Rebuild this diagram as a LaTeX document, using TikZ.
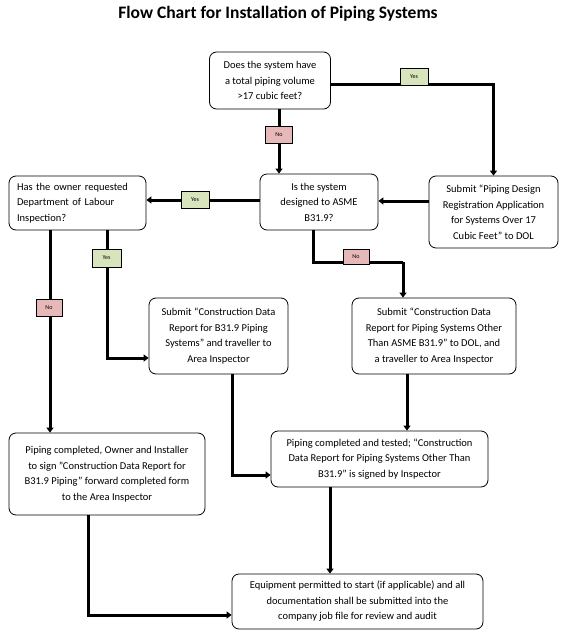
\documentclass[tikz,border=0pt]{standalone}
\usepackage{fontspec}
\setmainfont{Carlito}
\usetikzlibrary{arrows.meta}
\definecolor{yesfill}{HTML}{D8E4BC}
\definecolor{nofill}{HTML}{E6B8B7}
\tikzset{
  box/.style={draw=black, line width=0.8pt, rounded corners=7pt, align=center, font=\fontsize{10.5}{15.5}\selectfont, inner sep=2pt},
  conn/.style={line width=3pt, -{Triangle[length=5pt,width=7pt]}},
  plain/.style={line width=3pt},
  yeslbl/.style={draw=black, line width=0.5pt, fill=yesfill, font=\fontsize{6}{6}\selectfont, minimum width=28pt, minimum height=17pt, inner sep=0pt},
  nolbl/.style={draw=black, line width=0.5pt, fill=nofill, font=\fontsize{6}{6}\selectfont, minimum width=27pt, minimum height=17pt, inner sep=0pt},
}
\begin{document}
\begin{tikzpicture}[x=1pt,y=-1pt]
\useasboundingbox (0,0) rectangle (567,640);
\node[font=\fontsize{17.5}{20}\bfseries\selectfont] (title) at (278,14) {Flow Chart for Installation of Piping Systems};

\node[box, minimum width=121pt, minimum height=57pt] (Q1) at (270,80.5) {Does the system have\\a total piping volume\\>17 cubic feet?};
\node[box, minimum width=118pt, minimum height=56pt] (Q2) at (319,202) {Is the system\\designed to ASME\\B31.9?};
\node[box, minimum width=129pt, minimum height=72pt] (PD) at (493.5,212) {Submit ``Piping Design\\Registration Application\\for Systems Over 17\\Cubic Feet'' to DOL};
\node[box, minimum width=137pt, minimum height=54pt, text width=121pt, align=left, inner xsep=8pt] (Q3) at (77.5,203) {Has the owner requested\\Department of Labour\\Inspection?};
\node[box, minimum width=139pt, minimum height=76pt] (S1) at (218.5,336) {Submit ``Construction Data\\Report for B31.9 Piping\\Systems'' and traveller to\\Area Inspector};
\node[box, minimum width=164pt, minimum height=76pt] (S2) at (434,336) {Submit ``Construction Data\\Report for Piping Systems Other\\Than ASME B31.9'' to DOL, and\\a traveller to Area Inspector};
\node[box, minimum width=196pt, minimum height=82pt] (P1) at (107,474) {Piping completed, Owner and Installer\\to sign "Construction Data Report for\\B31.9 Piping" forward completed form\\to the Area Inspector};
\node[box, minimum width=217pt, minimum height=56pt] (P2) at (379.5,459) {Piping completed and tested; ``Construction\\Data Report for Piping Systems Other Than\\B31.9'' is signed by Inspector};
\node[box, minimum width=251pt, minimum height=55pt] (E) at (357.5,601.5) {Equipment permitted to start (if applicable) and all\\documentation shall be submitted into the\\company job file for review and audit};

\coordinate (k2) at (403,262);

\draw[conn] ([yshift=-3.5]Q1.east) -| (PD.north);
\draw[conn] ([xshift=9]Q1.south) -- ([xshift=9]Q1.south |- Q2.north);
\draw[conn] (PD.west |- 0,201) -- (Q2.east |- 0,201);
\draw[conn] (Q2.west |- 0,200) -- (Q3.east |- 0,200);
\draw[plain] ([xshift=-6]Q2.south) |- (k2);
\draw[conn] (k2) -- (k2 |- S2.north);
\draw[conn] ([xshift=-27.5]Q3.south) -- ([xshift=-27.5]Q3.south |- P1.north);
\draw[conn] ([xshift=29.5]Q3.south) |- ([yshift=-22]S1.west);
\draw[conn] ([xshift=13.5]S1.south) |- ([yshift=-16]P2.west);
\draw[conn] ([xshift=-27]S2.south) -- ([xshift=-27]S2.south |- P2.north);
\draw[conn] ([xshift=-19]P1.south) |- ([yshift=-13.5]E.west);
\draw[conn] ([xshift=-49.5]P2.south) -- ([xshift=-49.5]P2.south |- E.north);

\node[yeslbl] (y1) at (414,76.5) {Yes};
\node[nolbl] (n1) at (279,135) {No};
\node[yeslbl] (y2) at (195,199.5) {Yes};
\node[nolbl, minimum width=26pt, minimum height=15pt] (n2) at (356,256.5) {No};
\node[yeslbl, minimum width=29pt, minimum height=18pt] (y3) at (106.5,258) {Yes};
\node[nolbl, minimum width=26pt] (n3) at (49,307.5) {No};
\end{tikzpicture}
\end{document}
